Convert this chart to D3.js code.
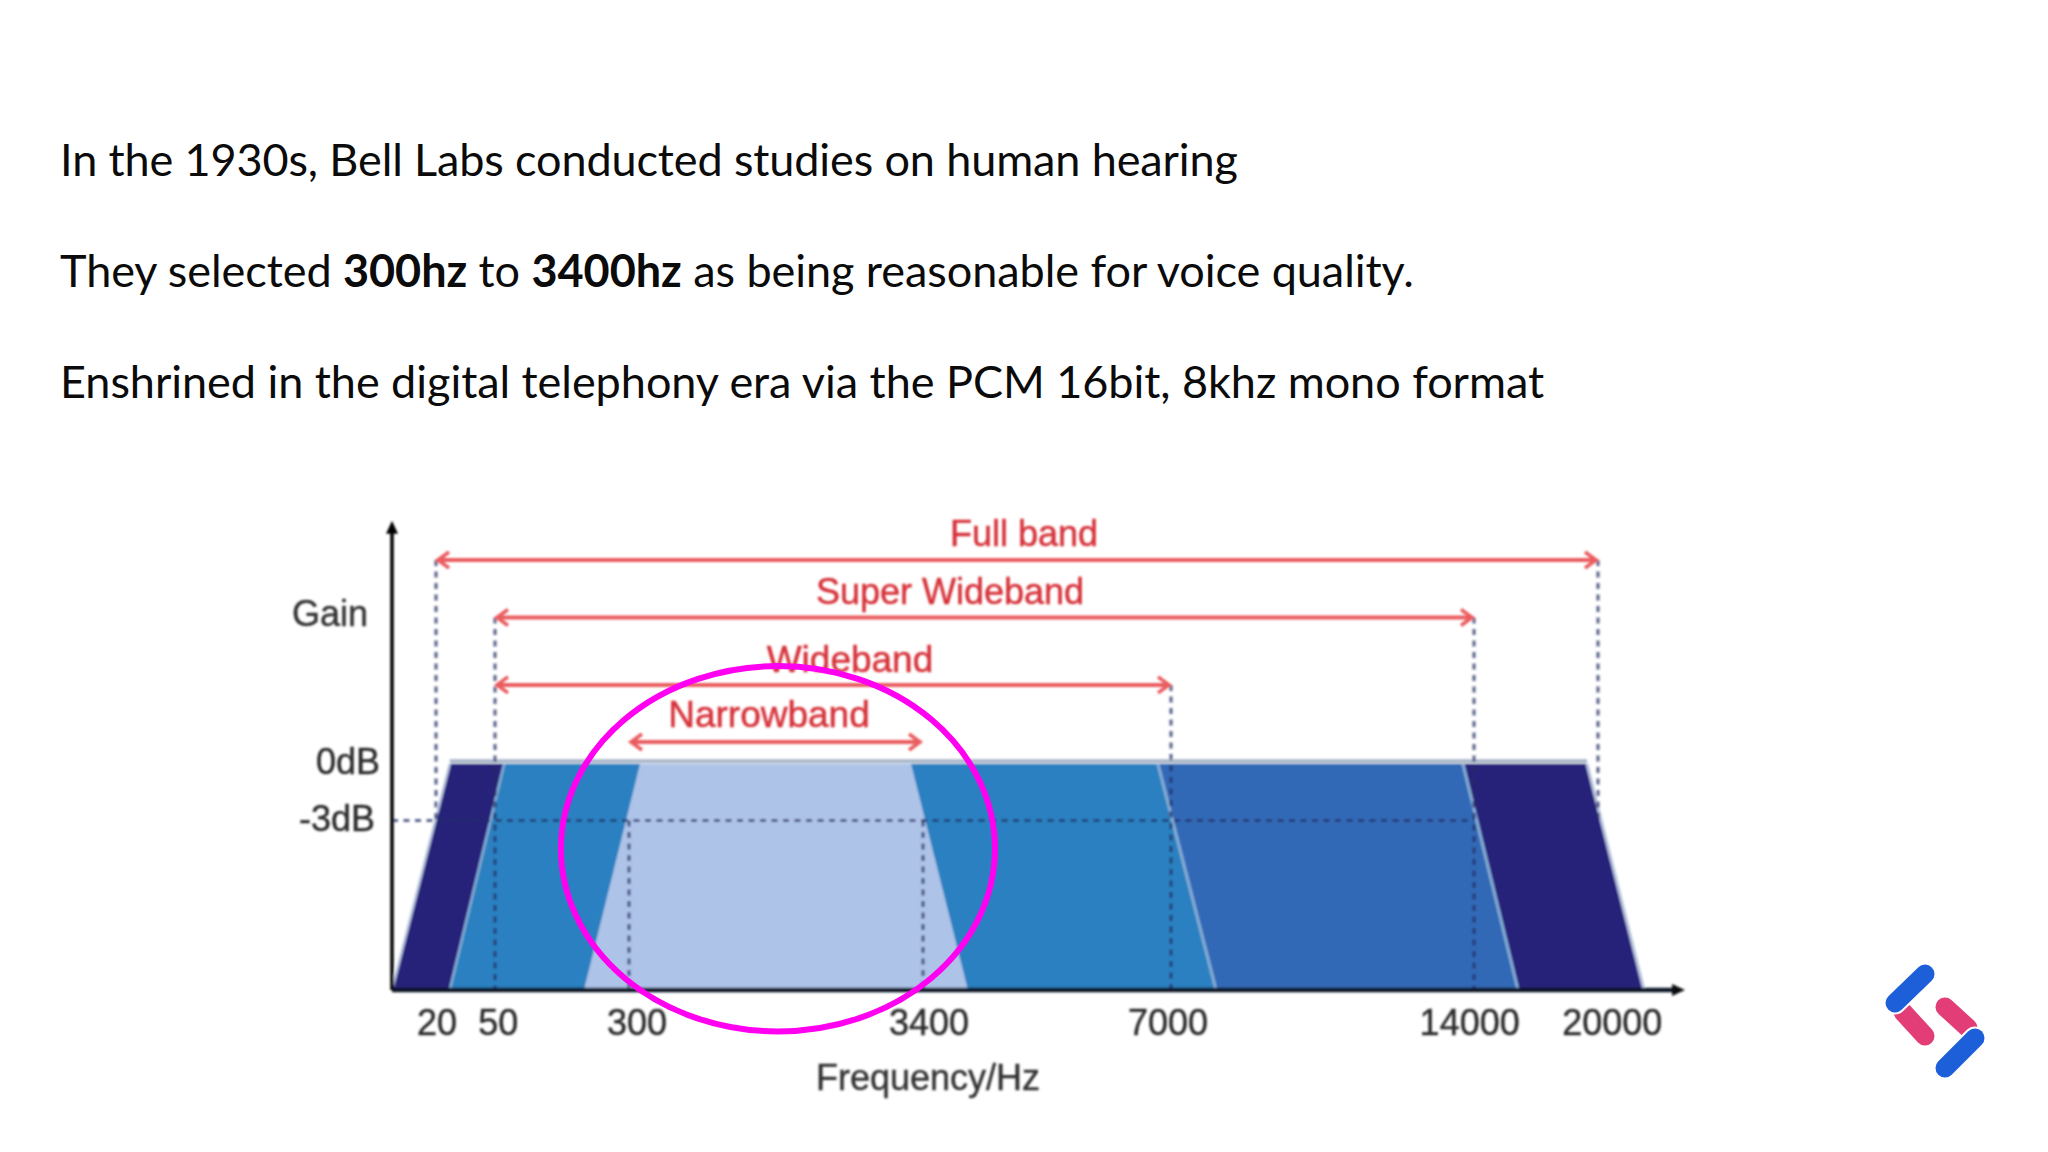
<!DOCTYPE html>
<html><head><meta charset="utf-8">
<script src="https://cdn.jsdelivr.net/npm/d3@7/dist/d3.min.js"></script>
<style>html,body{margin:0;padding:0;background:#fff}svg{display:block}</style></head>
<body><svg id="c" width="2048" height="1152"></svg>
<script>
// ---- Data ----
const introLines = [
  [["In the 1930s, Bell Labs conducted studies on human hearing",0]],
  [["They selected ",0],["300hz",1],[" to ",0],["3400hz",1],[" as being reasonable for voice quality.",0]],
  [["Enshrined in the digital telephony era via the PCM 16bit, 8khz mono format",0]]
];
const introTracking = [-0.12,-0.05,-0.04];
const tickHz = [20,50,300,3400,7000,14000,20000];
const tickLabelHz = [20.5,56,384,3487,6956,13900,20620];
const xKnotHz = [0,20,50,300,3400,7000,14000,20000,22000];
const xKnotPx = [392,436,495,629,923,1171,1474,1598,1644];
const bandNames = ["Full band","Super Wideband","Wideband","Narrowband"];
const bandLow = [20,50,50,300];
const bandHigh = [20000,14000,7000,3400];
const bandArrowDb = [10.83,7.78,4.2,1.17];
const bandLabelHz = [4866,3792,2630,1776];
const bandFloorLow = [0,27,27,216];
const bandTopLow = [27,67,67,416];
const bandTopHigh = [19470,13746,6811,3274];
const bandFloorHigh = [22000,16130,8040,4053];
const bandColors = ["#27217a","#3369b6","#2a80c0","#aec3e8"];
const gainTicks = [0,-3];
const gainLabels = ["0dB","-3dB"];

const svg = d3.select("#c");
const defs = svg.append("defs");
defs.append("filter").attr("id","soft").attr("filterUnits","userSpaceOnUse")
  .attr("x",250).attr("y",480).attr("width",1500).attr("height",640)
  .append("feGaussianBlur").attr("stdDeviation",1.1);
defs.append("filter").attr("id","softL").attr("filterUnits","userSpaceOnUse")
  .attr("x",1850).attr("y",940).attr("width",170).attr("height",170)
  .append("feGaussianBlur").attr("stdDeviation",0.7);

// Intro text
const intro = svg.append("g").attr("font-family","Lato").attr("font-size",45).attr("fill","#0b0b0b");
intro.selectAll("text").data(introLines).join("text")
  .attr("x",60).attr("y",(d,i)=>176+i*111).attr("letter-spacing",(d,i)=>introTracking[i])
  .selectAll("tspan").data(d=>d).join("tspan")
  .attr("font-weight",d=>d[1]?700:400).attr("xml:space","preserve")
  .style("white-space","pre").text(d=>d[0]);

// Scales
const x = d3.scaleLinear().domain(xKnotHz).range(xKnotPx);
const y = d3.scaleLinear().domain([-12,0]).range([990,764]);
const floorDb = -12, axisTopDb = 12.6, axisEndHz = 23350;

const g = svg.append("g").attr("filter","url(#soft)");
const line = d3.line().x(d=>x(d[0])).y(d=>y(d[1]));

// Top soft rim
g.append("path").attr("d",line([[bandTopLow[0],0.15],[bandTopHigh[0],0.15]]))
  .attr("stroke","#a9b6c8").attr("stroke-width",4).attr("fill","none");

// Band trapezoids
g.selectAll("path.band").data(bandNames).join("path").attr("class","band")
  .attr("d",(d,i)=>line([[bandFloorLow[i],floorDb],[bandTopLow[i],0],[bandTopHigh[i],0],[bandFloorHigh[i],floorDb]])+"Z")
  .attr("fill",(d,i)=>bandColors[i]);

// Light edges on bands
const edgeIdx = [0,1,2];
g.selectAll("path.edgeR").data(edgeIdx).join("path").attr("class","edgeR")
  .attr("d",i=>line([[bandTopHigh[i],0],[bandFloorHigh[i],floorDb]]))
  .attr("stroke",i=>i===0?"#b6c4de":"#86aed6").attr("stroke-width",3).attr("fill","none");
g.selectAll("path.edgeL").data([0,2]).join("path").attr("class","edgeL")
  .attr("d",i=>line([[bandFloorLow[i],floorDb],[bandTopLow[i],0]]))
  .attr("stroke",i=>i===0?"#b6c4de":"#86aed6").attr("stroke-width",2.5).attr("fill","none");

// Dashed guides
const dashStroke = "rgba(36,44,100,.72)";
const guide = g.append("g").attr("stroke",dashStroke).attr("stroke-width",3.2).attr("stroke-dasharray","6 5.5").attr("fill","none");
const guideTop = [10.83,7.78,-3,-3,4.2,7.78,10.83];
const guideBottom = [-3,floorDb,floorDb,floorDb,floorDb,floorDb,-3];
guide.selectAll("path.v").data(tickHz).join("path").attr("class","v")
  .attr("d",(d,i)=>line([[d,guideTop[i]],[d,guideBottom[i]]]));
guide.append("path").attr("d",line([[0,-3],[14000,-3]]));

// Axes
const ax = g.append("g").attr("stroke","#111827").attr("fill","#111");
ax.append("path").attr("d",line([[0,floorDb],[axisEndHz,floorDb]])).attr("stroke-width",4.5).attr("fill","none");
ax.append("path").attr("d",line([[0,floorDb],[0,axisTopDb]])).attr("stroke","#000").attr("stroke-width",3.5).attr("fill","none");
const X0=x(0),YT=y(axisTopDb),XE=x(axisEndHz),YB=y(floorDb);
ax.append("path").attr("stroke","none").attr("fill","#000").attr("d",`M${X0},${YT-6}l6,13h-12Z`);
ax.append("path").attr("stroke","none").attr("fill","#111").attr("d",`M${XE+10},${YB}l-13,-6v12Z`);

// Band arrows
const red = "#ea5c5e";
const ar = g.append("g").attr("stroke",red).attr("fill","none");
bandNames.forEach((n,i)=>{
  const L=x(bandLow[i])+2, R=x(bandHigh[i])-(i===3?3:2), yy=y(bandArrowDb[i]);
  ar.append("path").attr("stroke-width",4).attr("d",`M${L},${yy}H${R}`);
  ar.append("path").attr("stroke-width",3.6).attr("d",`M${L+11},${yy-8}L${L},${yy}L${L+11},${yy+8}`);
  ar.append("path").attr("stroke-width",3.6).attr("d",`M${R-11},${yy-8}L${R},${yy}L${R-11},${yy+8}`);
});

// Text
const T = g.append("g").attr("font-family","Liberation Sans").attr("font-size",36);
const bandLabelDy = [-14,-13,-13,-15];
T.selectAll("text.band").data(bandNames).join("text").attr("class","band")
  .attr("text-anchor","middle").attr("fill","#d6333a").attr("stroke","#d6333a").attr("stroke-width",0.5)
  .attr("font-size",(d,i)=>i>=2?37:36)
  .attr("x",(d,i)=>x(bandLabelHz[i])).attr("y",(d,i)=>y(bandArrowDb[i])+bandLabelDy[i]).text(d=>d);
T.selectAll("text.tick").data(tickHz).join("text").attr("class","tick")
  .attr("text-anchor","middle").attr("fill","#2b2b2b").attr("stroke","#2b2b2b").attr("stroke-width",0.4)
  .attr("x",(d,i)=>x(tickLabelHz[i])).attr("y",y(floorDb)+45).text(d=>d);
T.append("text").attr("text-anchor","middle").attr("fill","#333").attr("stroke","#333").attr("stroke-width",0.4)
  .attr("x",x(3400)+5).attr("y",y(floorDb)+100).text("Frequency/Hz");
T.append("text").attr("text-anchor","end").attr("fill","#333").attr("stroke","#333").attr("stroke-width",0.4)
  .attr("x",x(0)-24).attr("y",y(7.3)-1).text("Gain");
T.selectAll("text.gain").data(gainTicks).join("text").attr("class","gain")
  .attr("text-anchor","end").attr("fill","#2b2b2b").attr("stroke","#2b2b2b").attr("stroke-width",0.4)
  .attr("x",(d,i)=>x(0)-(i?17:12)).attr("y",d=>y(d)+10).text((d,i)=>gainLabels[i]);

// Highlight ellipse (dB / Hz annotated extents)
const ellHz=[173,4445], ellDb=[5.2,-14.2];
svg.append("ellipse")
  .attr("cx",(x(ellHz[0])+x(ellHz[1]))/2).attr("cy",(y(ellDb[0])+y(ellDb[1]))/2)
  .attr("rx",(x(ellHz[1])-x(ellHz[0]))/2).attr("ry",(y(ellDb[1])-y(ellDb[0]))/2)
  .attr("fill","none").attr("stroke","#ff00f0").attr("stroke-width",6);

// Logo
const logo = svg.append("g").attr("filter","url(#softL)").attr("fill","none").attr("stroke-linecap","round");
const pink = [[1903,1012,1925,1036],[1945,1007,1968,1028]];
const blue = [[1925,974,1895,1003],[1975,1038,1945,1068]];
logo.selectAll("line.p").data(pink).join("line").attr("class","p")
  .attr("x1",d=>d[0]).attr("y1",d=>d[1]).attr("x2",d=>d[2]).attr("y2",d=>d[3])
  .attr("stroke","#e23e77").attr("stroke-width",19);
logo.selectAll("line.h").data(blue).join("line").attr("class","h")
  .attr("x1",d=>d[0]).attr("y1",d=>d[1]).attr("x2",d=>d[2]).attr("y2",d=>d[3])
  .attr("stroke","#fff").attr("stroke-width",23);
logo.selectAll("line.b").data(blue).join("line").attr("class","b")
  .attr("x1",d=>d[0]).attr("y1",d=>d[1]).attr("x2",d=>d[2]).attr("y2",d=>d[3])
  .attr("stroke","#1a5fd8").attr("stroke-width",19);
</script></body></html>
